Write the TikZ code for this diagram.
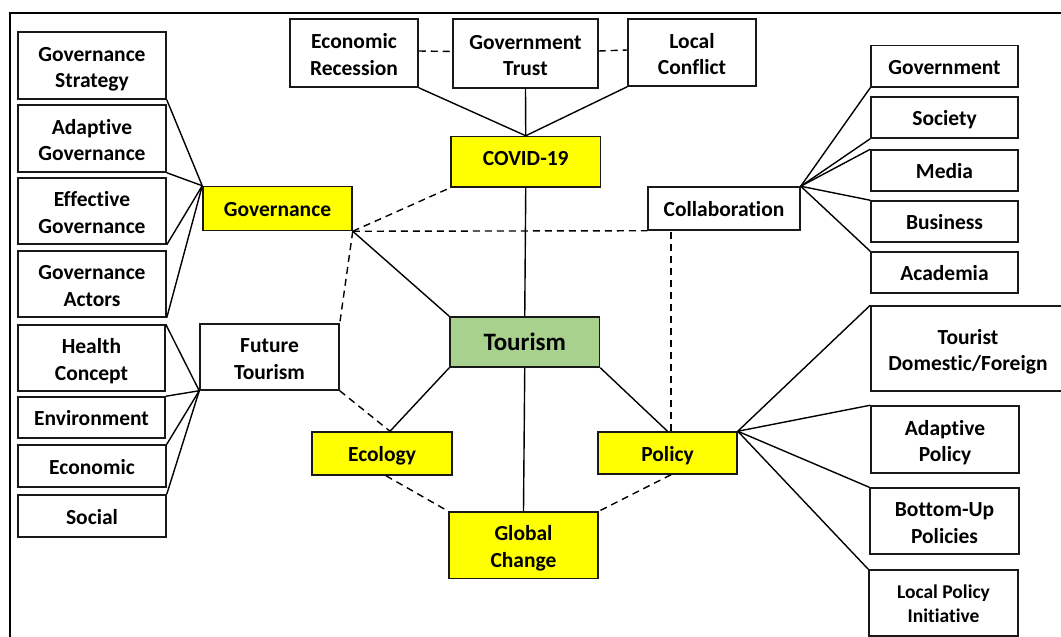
\documentclass[tikz,border=0pt]{standalone}
\usepackage{fontspec}
\setmainfont{Carlito}[Ligatures={NoCommon}]
\newcommand\tl[2]{\rule{0pt}{23.9pt}#1\\#2\rule[-6pt]{0pt}{0pt}}
\newcommand\tls[2]{\rule{0pt}{20.6pt}#1\\#2\rule[-6pt]{0pt}{0pt}}
\newcommand\nolig{\kern0pt }
\begin{document}
\begin{tikzpicture}[x=1pt,y=-1pt,
  box/.style={draw=black!90, line width=1.5pt, inner sep=0pt, align=center,
    font=\bfseries\fontsize{21.5}{26.5}\selectfont, fill=white},
  one/.style={text height=16.4pt, text depth=0pt},
  ybox/.style={box, fill=hiyellow},
  link/.style={line width=1.4pt},
  dlink/.style={line width=1.4pt, dash pattern=on 7pt off 5pt},
]
\definecolor{hiyellow}{HTML}{FFFF00}
\definecolor{tgreen}{HTML}{A9D18E}
\useasboundingbox (0,0) rectangle (1061,637);
% frame
\coordinate (fbl) at (10,645);
\coordinate (ftl) at (10,13);
\coordinate (ftr) at (1070,13);
\draw[line width=2.4pt] (fbl) -- (ftl) -- (ftr);

% left governance column
\node[box, minimum width=148pt, minimum height=67pt] (gs) at (92,65.5) {\tl{Governance}{Strategy}};
\node[box, minimum width=148pt, minimum height=67pt] (ag) at (92,138.5) {\tl{Adapt\nolig ive}{Governance}};
\node[box, minimum width=148pt, minimum height=66pt] (eg) at (92,211) {\tl{Effect\nolig ive}{Governance}};
\node[box, minimum width=148pt, minimum height=66pt] (ga) at (92,284) {\tl{Governance}{Actors}};
% left future column
\node[box, minimum width=147pt, minimum height=66pt] (hc) at (91.5,358) {\tl{Health}{Concept}};
\node[box, one, minimum width=147pt, minimum height=41pt] (env) at (91.5,417.5) {Environment};
\node[box, one, minimum width=148pt, minimum height=42pt] (eco) at (92,466) {Economic};
\node[box, one, minimum width=148pt, minimum height=42pt] (soc) at (92,516) {Social};

\node[ybox, one, minimum width=149pt, minimum height=44pt] (gov) at (277.5,208.5) {Governance};
\node[box, minimum width=139pt, minimum height=66pt] (ft) at (269.5,357) {\tl{Future}{Tourism}};

% top row
\node[box, minimum width=128pt, minimum height=68pt] (er) at (354,53) {\tl{Economic}{Recession}};
\node[box, minimum width=145pt, minimum height=69pt] (gt) at (525.5,53.5) {\tl{Government}{Trust}};
\node[box, minimum width=128pt, minimum height=67pt] (lc) at (692,52.5) {\tl{Local}{Conflict}};

\node[ybox, minimum width=149.5pt, minimum height=50.5pt, text height=8pt, text depth=0pt] (cov) at (525.75,161.75) {COVID-19};
\node[box, one, minimum width=152pt, minimum height=43pt] (col) at (724,208.5) {Collaborat\nolig ion};
\node[box, fill=tgreen, minimum width=149.5pt, minimum height=50pt,
  font=\bfseries\fontsize{25}{30}\selectfont, text height=17.4pt, text depth=0pt] (tour) at (524.75,342) {Tourism};
\node[ybox, one, minimum width=140pt, minimum height=43pt] (ecol) at (382,453.5) {Ecology};
\node[ybox, one, minimum width=139pt, minimum height=42pt] (pol) at (667.5,453) {Policy};
\node[ybox, minimum width=149pt, minimum height=66.5pt] (gc) at (523.5,545.25) {\tl{Global}{Change}};

% right collaboration column
\node[box, one, minimum width=147pt, minimum height=41.5pt] (gv) at (944.5,66.25) {Government};
\node[box, one, minimum width=147pt, minimum height=41pt] (so) at (944.5,117.5) {Society};
\node[box, one, minimum width=147pt, minimum height=41pt] (me) at (944.5,170.5) {Media};
\node[box, one, minimum width=147pt, minimum height=41pt] (bu) at (944.5,221.5) {Business};
\node[box, one, minimum width=147pt, minimum height=41pt] (ac) at (944.5,272.5) {Academia};
% right policy column
\node[box, minimum width=194pt, minimum height=85pt] (td) at (968,348.5) {\tl{Tourist}{Domest\nolig ic/Foreign}};
\node[box, minimum width=148pt, minimum height=67pt] (ap) at (945,439.5) {\tl{Adapt\nolig ive}{Policy}};
\node[box, minimum width=149pt, minimum height=66pt] (bp) at (944.5,521) {\tl{Bottom-Up}{Policies}};
\node[box, minimum width=149pt, minimum height=66pt,
  font=\bfseries\fontsize{19.5}{24.5}\selectfont] (lp) at (943.5,603) {\tls{Local Policy}{Init\nolig iat\nolig ive}};

% governance fan
\foreach \n in {gs,ag,eg,ga} \draw[link] (\n.south east) -- (gov.north west);
% future tourism fan
\foreach \n in {hc,env,eco,soc} \draw[link] (\n.north east) -- (ft.south west);
% top row to COVID
\draw[link] (er.south east) -- (cov.north);
\draw[link] (gt.south) -- (cov.north);
\draw[link] (lc.south west) -- (cov.north);
\draw[dlink] ([yshift=2pt]er.east) -- ([yshift=2pt]gt.west);
\draw[dlink] ([yshift=2.5pt]gt.east) -- ([yshift=2.5pt]lc.west);
% central
\draw[link] (cov.south) -- (tour.north);
\draw[dlink] (gov.south east) -- (cov.south west);
\draw[dlink] (gov.south east) -- (col.south west);
\draw[dlink] (gov.south east) -- (ft.north east);
\draw[link] (gov.south east) -- (tour.north west);
\draw[dlink] ([xshift=3.5pt]pol.north) -- ([xshift=3.5pt]pol.north |- col.south);
\coordinate (ectop) at ([xshift=8pt]ecol.north);
\draw[link] (tour.south west) -- (ectop);
\draw[dlink] (ft.south east) -- (ectop);
\draw[link] (tour.south) -- (gc.north);
\draw[link] (tour.south east) -- (pol.north);
\draw[dlink] ([xshift=4pt]ecol.south) -- (gc.north west);
\draw[dlink] ([xshift=3.5pt]pol.south) -- (gc.north east);
% collaboration fan
\draw[link] (col.north east) -- (gv.south west);
\draw[link] (col.north east) -- (so.south west);
\draw[link] (col.north east) -- (me.north west);
\draw[link] (col.north east) -- (bu.north west);
\draw[link] (col.north east) -- (ac.north west);
% policy fan
\foreach \n in {td,ap,bp,lp} \draw[link] (pol.north east) -- (\n.north west);
\end{tikzpicture}
\end{document}
